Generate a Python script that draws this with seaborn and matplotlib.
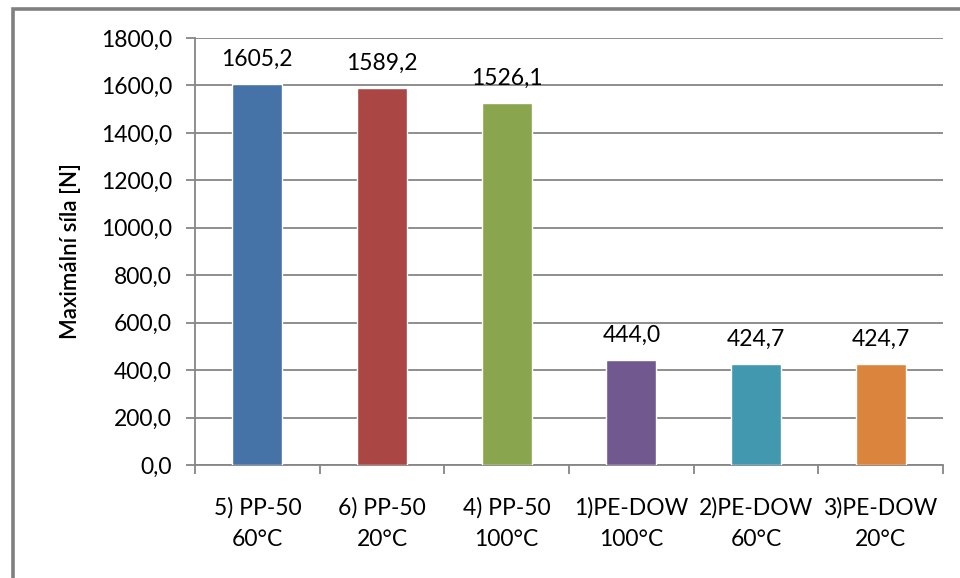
import matplotlib
matplotlib.use("Agg")
import matplotlib.pyplot as plt
from matplotlib.patches import Rectangle
from matplotlib.ticker import FixedLocator, FuncFormatter
import seaborn as sns
import pandas as pd

categories = ["5) PP-50\n60°C", "6) PP-50\n20°C", "4) PP-50\n100°C",
              "1)PE-DOW\n100°C", "2)PE-DOW\n60°C", "3)PE-DOW\n20°C"]
values = [1605.2, 1589.2, 1526.1, 444.0, 424.7, 424.7]
colors = ["#4572A7", "#AA4643", "#89A54E", "#71588F", "#4198AF", "#DB843D"]
y_ticks = [0, 200, 400, 600, 800, 1000, 1200, 1400, 1600, 1800]

sns.set_theme(style="white")
plt.rcParams["font.family"] = ["Lato", "DejaVu Sans"]

df = pd.DataFrame({"vzorek": categories, "sila": values})

fig = plt.figure(figsize=(9.6, 5.78), dpi=100)
ax = fig.add_axes([195 / 960, 1 - 465 / 578, (943 - 195) / 960, (465 - 38) / 578])

sns.barplot(data=df, x="vzorek", y="sila", hue="vzorek", palette=colors,
            width=0.4, saturation=1, legend=False, ax=ax, zorder=3)

grid_c = "#868686"
ax.set_ylim(0, 1800)
ax.set_xlim(-0.5, len(categories) - 0.5)
ax.set_yticks(y_ticks)
ax.yaxis.set_major_formatter(FuncFormatter(lambda v, p: f"{v:.1f}".replace(".", ",")))
ax.yaxis.grid(True, color=grid_c, linewidth=1.3, zorder=0)
ax.set_axisbelow(True)

for s in ["top", "right"]:
    ax.spines[s].set_visible(False)
for s in ["left", "bottom"]:
    ax.spines[s].set_color(grid_c)
    ax.spines[s].set_linewidth(1.3)

ax.tick_params(axis="y", which="major", left=True, length=6.5, width=1.3,
               color=grid_c, pad=10, labelsize=16.5, labelcolor="black")
ax.tick_params(axis="x", which="major", bottom=False, length=0, pad=23,
               labelsize=16.5, labelcolor="black")
ax.xaxis.set_minor_locator(FixedLocator([i - 0.5 for i in range(len(categories) + 1)]))
ax.tick_params(axis="x", which="minor", bottom=True, length=6.5, width=1.3,
               color=grid_c)
for lbl in ax.get_xticklabels():
    lbl.set_linespacing(1.6)

ax.set_xlabel("")
ax.set_ylabel("Maximální síla [N]", fontsize=16, fontweight="semibold",
              color="black", labelpad=14)

for i, v in enumerate(values):
    ax.annotate(f"{v:.1f}".replace(".", ","), (i, v), xytext=(0, 13),
                textcoords="offset points", ha="center", va="baseline",
                fontsize=16.5, color="black")

fig.patches.append(Rectangle((13 / 960, -0.1), 1.2, 1 - 9 / 578 + 0.1,
                             transform=fig.transFigure, fill=False,
                             edgecolor="#808080", linewidth=2.6, zorder=0))

fig.savefig("out.png", dpi=100)
